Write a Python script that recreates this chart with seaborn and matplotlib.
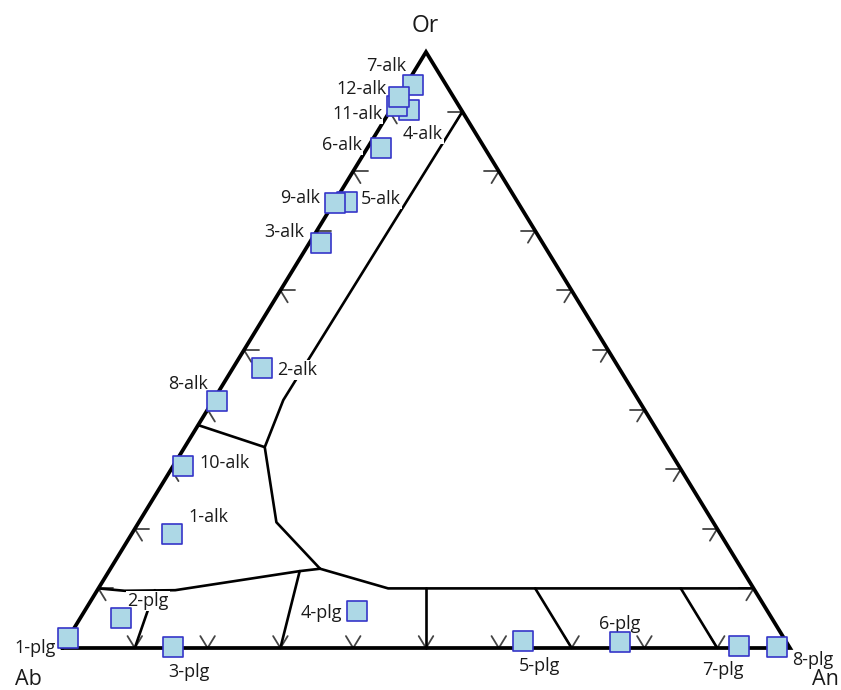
import numpy as np
import pandas as pd
import matplotlib
matplotlib.use('Agg')
from matplotlib import pyplot as plt
import seaborn as sns

# feldspar compositions, mol % (Ab, Or, An); listed in drawing order
names = ['1-alk', '2-alk', '3-alk', '5-alk', '9-alk', '6-alk', '7-alk', '4-alk', '11-alk', '12-alk',
         '8-alk', '10-alk', '1-plg', '2-plg', '3-plg', '4-plg', '5-plg', '6-plg', '7-plg', '8-plg']
ab = [75.3, 49.0, 30.4, 23.5, 25.1, 14.2, 4.5, 7.2, 8.5, 7.4,
      58.0, 68.1, 98.3, 89.4, 84.6, 56.4, 36.1, 22.9, 6.9, 1.7]
orth = [19.1, 47.0, 68.0, 74.8, 74.7, 83.9, 94.5, 90.3, 90.9, 92.5,
        41.4, 30.5, 1.7, 5.0, 0.2, 6.2, 1.2, 1.0, 0.3, 0.2]
an = [5.6, 4.0, 1.6, 1.7, 0.2, 1.9, 1.0, 2.5, 0.6, 0.1,
      0.6, 1.4, 0.0, 5.6, 15.2, 37.4, 62.7, 76.1, 92.8, 98.1]

# field boundaries, each a list of (Ab, Or, An)
boundaries = [
    [(0, 90, 10), (48.8, 41.6, 9.6), (55.3, 33.7, 11.0), (60.0, 21.1, 18.9), (57.9, 13.3, 28.8)],
    [(62.6, 37.4, 0), (55.3, 33.7, 11.0)],
    [(90, 10, 0), (86.6, 9.6, 3.8), (79.6, 9.7, 10.7), (60.9, 12.9, 26.2), (57.9, 13.3, 28.8)],
    [(60.9, 12.9, 26.2), (70, 0, 30)],
    [(82.4, 9.7, 7.9), (90, 0, 10)],
    [(57.9, 13.3, 28.8), (50.2, 10.0, 39.8), (0, 10, 90)],
    [(45, 10, 45), (50, 0, 50)],
    [(30, 10, 60), (30, 0, 70)],
    [(10, 10, 80), (10, 0, 90)],
]
apex_labels = ['Ab', 'Or', 'An']


def to_xy(a, o, n):
    a, o, n = np.asarray(a, float), np.asarray(o, float), np.asarray(n, float)
    s = a + o + n
    return (n + o / 2) / s, o / s


sns.set_style('white')
plt.rcParams['font.family'] = ['Open Sans', 'DejaVu Sans']

fig = plt.figure(figsize=(8.41, 6.9), dpi=100)
ax = fig.add_axes([62 / 841, 42 / 690, 728 / 841, 596 / 690])
ax.set_xlim(0, 1)
ax.set_ylim(0, 1)
ax.axis('off')

# outer triangle
tx, ty = to_xy([100, 0, 0, 100], [0, 0, 100, 0], [0, 100, 0, 0])
ax.plot(tx, ty, color='black', lw=2.7, clip_on=False, zorder=3, solid_joinstyle='miter')

# tick marks every 10 %, arms parallel to the other two sides
d = 2.0
tick_kw = dict(color='#444444', lw=1.3, clip_on=False, zorder=2)
for k in range(10, 100, 10):
    # bottom (Ab-An)
    p = (100 - k, 0, k)
    for q in [(100 - k - d, d, k), (100 - k, d, k - d)]:
        x, y = to_xy(*zip(p, q))
        ax.plot(x, y, **tick_kw)
    # left (Ab-Or)
    p = (100 - k, k, 0)
    for q in [(100 - k - d, k, d), (100 - k, k - d, d)]:
        x, y = to_xy(*zip(p, q))
        ax.plot(x, y, **tick_kw)
    # right (Or-An)
    p = (0, k, 100 - k)
    for q in [(d, k, 100 - k - d), (d, k - d, 100 - k)]:
        x, y = to_xy(*zip(p, q))
        ax.plot(x, y, **tick_kw)

for line in boundaries:
    x, y = to_xy(*zip(*line))
    ax.plot(x, y, color='black', lw=1.9, clip_on=False, zorder=2)

df = pd.DataFrame({'name': names, 'Ab': ab, 'Or': orth, 'An': an})
df['x'], df['y'] = to_xy(df['Ab'], df['Or'], df['An'])
sns.scatterplot(data=df, x='x', y='y', marker='s', s=190, color='#add8e6',
                edgecolor='#3535c8', linewidth=1.2, ax=ax, zorder=5,
                clip_on=False, legend=False)

# label offsets in pixels (dx, dy up)
label_offsets = {
    '7-alk': (-27, 21), '12-alk': (-38, 10), '11-alk': (-40, -6), '4-alk': (14, -22),
    '6-alk': (-39, 5), '9-alk': (-35, 7), '5-alk': (34, 5), '3-alk': (-37, 13),
    '2-alk': (35, 0), '8-alk': (-29, 19), '10-alk': (41, 5), '1-alk': (36, 19),
    '1-plg': (-33, -8), '2-plg': (27, 19), '3-plg': (16, -23), '4-plg': (-35, 0),
    '5-plg': (17, -23), '6-plg': (0, 20), '7-plg': (-16, -22), '8-plg': (36, -11),
}
for _, r in df.iterrows():
    ax.annotate(r['name'], (r['x'], r['y']), xytext=label_offsets[r['name']],
                textcoords='offset pixels', ha='center', va='center_baseline',
                fontsize=13, color='#1a1a1a', zorder=4, annotation_clip=False,
                bbox=dict(boxstyle='square,pad=0.05', fc='white', ec='none'))

# apex labels
apex_pts = [(100, 0, 0), (0, 100, 0), (0, 0, 100)]
apex_off = [(-34, -37), (-1, 20), (35, -37)]
apex_size = [15.5, 16.5, 15.5]
for lab, p, off, fs in zip(apex_labels, apex_pts, apex_off, apex_size):
    x, y = to_xy(*p)
    ax.annotate(lab, (float(x), float(y)), xytext=off, textcoords='offset pixels',
                ha='center', va='baseline', fontsize=fs, color='#1a1a1a',
                annotation_clip=False, zorder=6)

plt.savefig('out.png', dpi=100)
